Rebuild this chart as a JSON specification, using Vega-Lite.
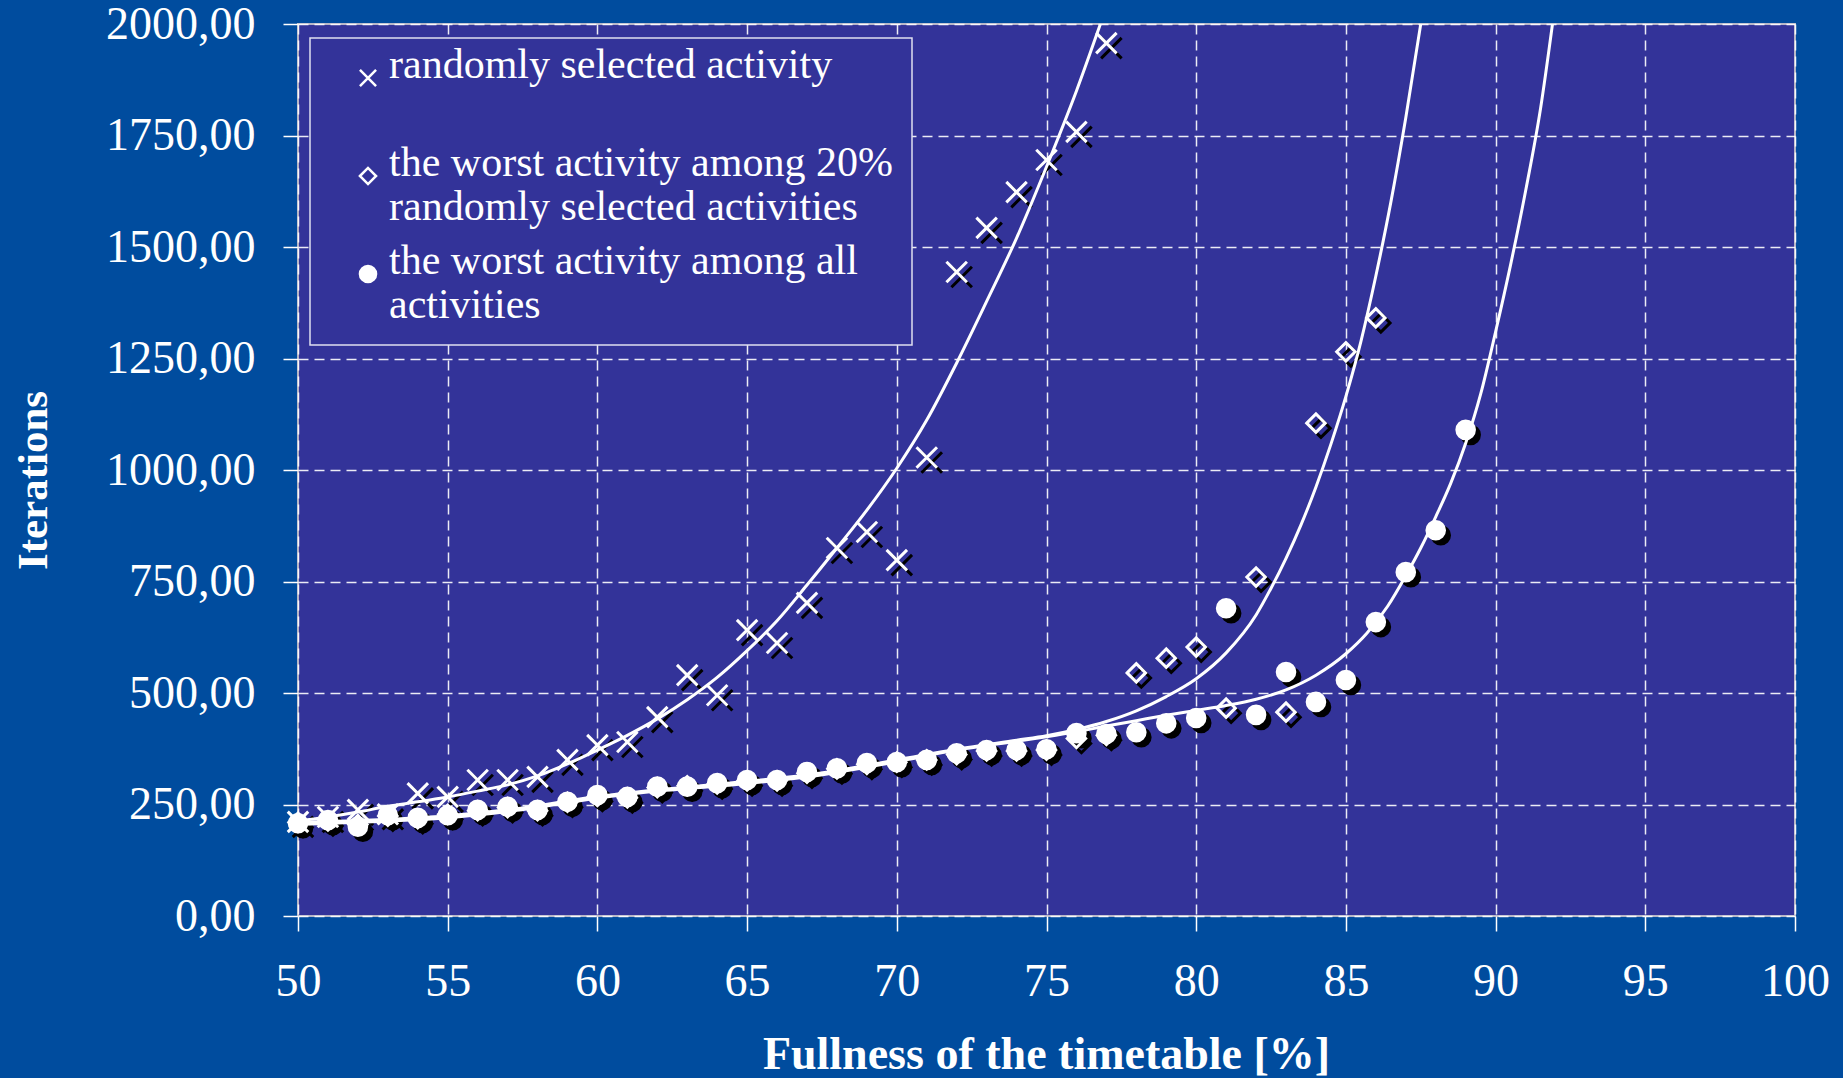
{
  "$schema": "https://vega.github.io/schema/vega-lite/v6.json",
  "autosize": {"type": "none"},
  "padding": {"left": 298, "top": 24, "right": 48, "bottom": 162},
  "width": 1497,
  "height": 892,
  "background": "#004C9E",
  "config": {
    "view": {"fill": "#333399", "stroke": "#B8B8C8", "strokeWidth": 2},
    "font": "Liberation Serif",
    "axis": {
      "domain": false,
      "grid": true,
      "gridColor": "#FFFFFF",
      "gridOpacity": 0.9,
      "gridDash": [10, 6],
      "gridWidth": 1.5,
      "tickColor": "#FFFFFF",
      "tickWidth": 1.5,
      "tickSize": 15,
      "labelColor": "#FFFFFF",
      "labelFont": "Liberation Serif",
      "labelFontSize": 46,
      "labelFlush": false,
      "labelOverlap": false,
      "titleColor": "#FFFFFF",
      "titleFont": "Liberation Serif",
      "titleFontWeight": "bold",
      "titleFontSize": 43
    },
    "legend": {
      "labelFont": "Liberation Serif",
      "labelFontSize": 42,
      "labelColor": "#FFFFFF",
      "labelLimit": 800,
      "labelBaseline": "alphabetic",
      "labelOffset": 0,
      "symbolOffset": 18,
      "symbolSize": 260,
      "symbolStrokeColor": "#FFFFFF",
      "symbolStrokeWidth": 2.5,
      "rowPadding": 12,
      "padding": 19,
      "fillColor": "#333399",
      "strokeColor": "#E0E0F0",
      "strokeWidth": 1.5
    }
  },
  "datasets": {
    "pts": [
      {"x": 50, "y": 211, "s": "A"}, {"x": 51, "y": 222, "s": "A"}, {"x": 52, "y": 238, "s": "A"}, {"x": 53, "y": 228, "s": "A"},
      {"x": 54, "y": 275, "s": "A"}, {"x": 55, "y": 267, "s": "A"}, {"x": 56, "y": 305, "s": "A"}, {"x": 57, "y": 305, "s": "A"},
      {"x": 58, "y": 312, "s": "A"}, {"x": 59, "y": 350, "s": "A"}, {"x": 60, "y": 383, "s": "A"}, {"x": 61, "y": 390, "s": "A"},
      {"x": 62, "y": 446, "s": "A"}, {"x": 63, "y": 540, "s": "A"}, {"x": 64, "y": 495, "s": "A"}, {"x": 65, "y": 641, "s": "A"},
      {"x": 66, "y": 612, "s": "A"}, {"x": 67, "y": 702, "s": "A"}, {"x": 68, "y": 825, "s": "A"}, {"x": 69, "y": 861, "s": "A"},
      {"x": 70, "y": 798, "s": "A"}, {"x": 71, "y": 1028, "s": "A"}, {"x": 72, "y": 1444, "s": "A"}, {"x": 73, "y": 1543, "s": "A"},
      {"x": 74, "y": 1623, "s": "A"}, {"x": 75, "y": 1695, "s": "A"}, {"x": 76, "y": 1758, "s": "A"}, {"x": 77, "y": 1957, "s": "A"},
      {"x": 50, "y": 210, "s": "B"}, {"x": 51, "y": 213, "s": "B"}, {"x": 52, "y": 205, "s": "B"}, {"x": 53, "y": 224, "s": "B"},
      {"x": 54, "y": 218, "s": "B"}, {"x": 55, "y": 228, "s": "B"}, {"x": 56, "y": 236, "s": "B"}, {"x": 57, "y": 243, "s": "B"},
      {"x": 58, "y": 236, "s": "B"}, {"x": 59, "y": 255, "s": "B"}, {"x": 60, "y": 268, "s": "B"}, {"x": 61, "y": 265, "s": "B"},
      {"x": 62, "y": 288, "s": "B"}, {"x": 63, "y": 292, "s": "B"}, {"x": 64, "y": 296, "s": "B"}, {"x": 65, "y": 303, "s": "B"},
      {"x": 66, "y": 303, "s": "B"}, {"x": 67, "y": 320, "s": "B"}, {"x": 68, "y": 330, "s": "B"}, {"x": 69, "y": 340, "s": "B"},
      {"x": 70, "y": 345, "s": "B"}, {"x": 71, "y": 350, "s": "B"}, {"x": 72, "y": 362, "s": "B"}, {"x": 73, "y": 370, "s": "B"},
      {"x": 74, "y": 370, "s": "B"}, {"x": 75, "y": 372, "s": "B"}, {"x": 76, "y": 398, "s": "B"}, {"x": 77, "y": 405, "s": "B"},
      {"x": 78, "y": 545, "s": "B"}, {"x": 79, "y": 578, "s": "B"}, {"x": 80, "y": 603, "s": "B"}, {"x": 81, "y": 466, "s": "B"},
      {"x": 82, "y": 760, "s": "B"}, {"x": 83, "y": 457, "s": "B"}, {"x": 84, "y": 1105, "s": "B"}, {"x": 85, "y": 1265, "s": "B"},
      {"x": 86, "y": 1341, "s": "B"},
      {"x": 50, "y": 208, "s": "C"}, {"x": 51, "y": 215, "s": "C"}, {"x": 52, "y": 200, "s": "C"}, {"x": 53, "y": 226, "s": "C"},
      {"x": 54, "y": 220, "s": "C"}, {"x": 55, "y": 226, "s": "C"}, {"x": 56, "y": 238, "s": "C"}, {"x": 57, "y": 245, "s": "C"},
      {"x": 58, "y": 238, "s": "C"}, {"x": 59, "y": 256, "s": "C"}, {"x": 60, "y": 271, "s": "C"}, {"x": 61, "y": 267, "s": "C"},
      {"x": 62, "y": 290, "s": "C"}, {"x": 63, "y": 290, "s": "C"}, {"x": 64, "y": 298, "s": "C"}, {"x": 65, "y": 305, "s": "C"},
      {"x": 66, "y": 305, "s": "C"}, {"x": 67, "y": 323, "s": "C"}, {"x": 68, "y": 331, "s": "C"}, {"x": 69, "y": 343, "s": "C"},
      {"x": 70, "y": 345, "s": "C"}, {"x": 71, "y": 350, "s": "C"}, {"x": 72, "y": 365, "s": "C"}, {"x": 73, "y": 372, "s": "C"},
      {"x": 74, "y": 372, "s": "C"}, {"x": 75, "y": 374, "s": "C"}, {"x": 76, "y": 410, "s": "C"}, {"x": 77, "y": 408, "s": "C"},
      {"x": 78, "y": 412, "s": "C"}, {"x": 79, "y": 432, "s": "C"}, {"x": 80, "y": 444, "s": "C"}, {"x": 81, "y": 690, "s": "C"},
      {"x": 82, "y": 451, "s": "C"}, {"x": 83, "y": 547, "s": "C"}, {"x": 84, "y": 480, "s": "C"}, {"x": 85, "y": 529, "s": "C"},
      {"x": 86, "y": 659, "s": "C"}, {"x": 87, "y": 771, "s": "C"}, {"x": 88, "y": 865, "s": "C"}, {"x": 89, "y": 1090, "s": "C"}
    ],
    "trend": [
      {"x": 50, "y": 213, "s": "A"}, {"x": 51, "y": 222, "s": "A"}, {"x": 52, "y": 233, "s": "A"}, {"x": 53, "y": 246, "s": "A"},
      {"x": 54, "y": 256, "s": "A"}, {"x": 55, "y": 267, "s": "A"}, {"x": 56, "y": 280, "s": "A"}, {"x": 57, "y": 294, "s": "A"},
      {"x": 58, "y": 314, "s": "A"}, {"x": 59, "y": 341, "s": "A"}, {"x": 60, "y": 372, "s": "A"}, {"x": 61, "y": 405, "s": "A"},
      {"x": 62, "y": 442, "s": "A"}, {"x": 63, "y": 485, "s": "A"}, {"x": 64, "y": 535, "s": "A"}, {"x": 65, "y": 595, "s": "A"},
      {"x": 66, "y": 662, "s": "A"}, {"x": 67, "y": 742, "s": "A"}, {"x": 68, "y": 825, "s": "A"}, {"x": 69, "y": 910, "s": "A"},
      {"x": 70, "y": 1004, "s": "A"}, {"x": 71, "y": 1112, "s": "A"}, {"x": 72, "y": 1240, "s": "A"}, {"x": 73, "y": 1378, "s": "A"},
      {"x": 74, "y": 1520, "s": "A"}, {"x": 75, "y": 1680, "s": "A"}, {"x": 76, "y": 1850, "s": "A"}, {"x": 76.8, "y": 2000, "s": "A"},
      {"x": 50, "y": 210, "s": "B"}, {"x": 52, "y": 214, "s": "B"}, {"x": 55, "y": 225, "s": "B"}, {"x": 57, "y": 238, "s": "B"},
      {"x": 60, "y": 268, "s": "B"}, {"x": 62, "y": 283, "s": "B"}, {"x": 65, "y": 302, "s": "B"}, {"x": 67, "y": 316, "s": "B"},
      {"x": 70, "y": 350, "s": "B"}, {"x": 72, "y": 374, "s": "B"}, {"x": 74, "y": 394, "s": "B"}, {"x": 75, "y": 404, "s": "B"},
      {"x": 76, "y": 418, "s": "B"}, {"x": 77, "y": 436, "s": "B"}, {"x": 78, "y": 460, "s": "B"}, {"x": 79, "y": 492, "s": "B"},
      {"x": 80, "y": 532, "s": "B"}, {"x": 81, "y": 590, "s": "B"}, {"x": 82, "y": 675, "s": "B"}, {"x": 82.5, "y": 735, "s": "B"},
      {"x": 83, "y": 802, "s": "B"}, {"x": 83.5, "y": 877, "s": "B"}, {"x": 84, "y": 962, "s": "B"}, {"x": 84.5, "y": 1058, "s": "B"},
      {"x": 85, "y": 1165, "s": "B"}, {"x": 85.5, "y": 1288, "s": "B"}, {"x": 86, "y": 1435, "s": "B"}, {"x": 86.5, "y": 1600, "s": "B"},
      {"x": 87, "y": 1790, "s": "B"}, {"x": 87.5, "y": 2000, "s": "B"},
      {"x": 50, "y": 205, "s": "C"}, {"x": 52, "y": 210, "s": "C"}, {"x": 55, "y": 220, "s": "C"}, {"x": 57, "y": 234, "s": "C"},
      {"x": 60, "y": 264, "s": "C"}, {"x": 62, "y": 280, "s": "C"}, {"x": 65, "y": 297, "s": "C"}, {"x": 67, "y": 312, "s": "C"},
      {"x": 70, "y": 346, "s": "C"}, {"x": 72, "y": 372, "s": "C"}, {"x": 74, "y": 392, "s": "C"}, {"x": 75, "y": 402, "s": "C"},
      {"x": 76, "y": 413, "s": "C"}, {"x": 77, "y": 426, "s": "C"}, {"x": 78, "y": 438, "s": "C"}, {"x": 79, "y": 450, "s": "C"},
      {"x": 80, "y": 461, "s": "C"}, {"x": 81, "y": 472, "s": "C"}, {"x": 82, "y": 486, "s": "C"}, {"x": 83, "y": 507, "s": "C"},
      {"x": 84, "y": 540, "s": "C"}, {"x": 85, "y": 588, "s": "C"}, {"x": 85.7, "y": 634, "s": "C"}, {"x": 86.4, "y": 695, "s": "C"},
      {"x": 87, "y": 763, "s": "C"}, {"x": 87.5, "y": 825, "s": "C"}, {"x": 88, "y": 895, "s": "C"}, {"x": 88.5, "y": 970, "s": "C"},
      {"x": 89, "y": 1060, "s": "C"}, {"x": 89.5, "y": 1170, "s": "C"}, {"x": 90, "y": 1310, "s": "C"}, {"x": 90.5, "y": 1460, "s": "C"},
      {"x": 91, "y": 1625, "s": "C"}, {"x": 91.5, "y": 1810, "s": "C"}, {"x": 91.9, "y": 2000, "s": "C"}
    ]
  },
  "encoding": {
    "x": {
      "field": "x", "type": "quantitative",
      "scale": {"domain": [50, 100], "nice": false, "zero": false},
      "axis": {
        "title": "Fullness of the timetable [%]",
        "values": [50, 55, 60, 65, 70, 75, 80, 85, 90, 95, 100],
        "labelBaseline": "alphabetic",
        "labelPadding": 64,
        "titleX": 748,
        "titleY": 152,
        "titleFontSize": 46,
        "titleBaseline": "alphabetic"
      }
    },
    "y": {
      "field": "y", "type": "quantitative",
      "scale": {"domain": [0, 2000], "nice": false},
      "axis": {
        "title": "Iterations",
        "values": [0, 250, 500, 750, 1000, 1250, 1500, 1750, 2000],
        "labelExpr": "replace(format(datum.value, '.2f'), '.', ',')",
        "labelPadding": 28,
        "titleX": -252,
        "titleY": 456,
        "titleBaseline": "alphabetic",
        "titleAngle": -90
      }
    }
  },
  "layer": [
    {
      "data": {"name": "pts"},
      "mark": {"type": "point", "xOffset": 5, "yOffset": 5, "strokeWidth": 3, "opacity": 1},
      "encoding": {
        "stroke": {"value": "#000000"},
        "fill": {"condition": {"test": "datum.s === 'C'", "value": "#000000"}, "value": "transparent"},
        "shape": {"condition": [{"test": "datum.s === 'A'", "value": "M-1,-1L1,1M-1,1L1,-1"}, {"test": "datum.s === 'B'", "value": "diamond"}], "value": "circle"},
        "size": {"condition": [{"test": "datum.s === 'A'", "value": 420}, {"test": "datum.s === 'B'", "value": 340}], "value": 310}
      }
    },
    {
      "data": {"name": "pts"},
      "mark": {"type": "point", "strokeWidth": 3, "opacity": 1},
      "encoding": {
        "stroke": {
          "field": "s", "type": "nominal",
          "scale": {"domain": ["A", "B", "C"], "range": ["#FFFFFF", "#FFFFFF", "#FFFFFF"]},
          "legend": {
            "title": null,
            "orient": "none",
            "legendX": 12,
            "legendY": 14,
            "labelExpr": "datum.label === 'A' ? ['randomly selected activity', ' '] : datum.label === 'B' ? ['the worst activity among 20%', 'randomly selected activities'] : ['the worst activity among all', 'activities']",
            "encode": {"labels": {"dy": {"value": 10}, "lineHeight": {"value": 44}}}
          }
        },
        "fill": {
          "field": "s", "type": "nominal",
          "scale": {"domain": ["A", "B", "C"], "range": ["transparent", "transparent", "#FFFFFF"]},
          "legend": {
            "title": null,
            "orient": "none",
            "legendX": 12,
            "legendY": 14,
            "labelExpr": "datum.label === 'A' ? ['randomly selected activity', ' '] : datum.label === 'B' ? ['the worst activity among 20%', 'randomly selected activities'] : ['the worst activity among all', 'activities']",
            "encode": {"labels": {"dy": {"value": 10}, "lineHeight": {"value": 44}}}
          }
        },
        "shape": {
          "field": "s", "type": "nominal",
          "scale": {"domain": ["A", "B", "C"], "range": ["M-1,-1L1,1M-1,1L1,-1", "diamond", "circle"]},
          "legend": {
            "title": null,
            "orient": "none",
            "legendX": 12,
            "legendY": 14,
            "labelExpr": "datum.label === 'A' ? ['randomly selected activity', ' '] : datum.label === 'B' ? ['the worst activity among 20%', 'randomly selected activities'] : ['the worst activity among all', 'activities']",
            "encode": {"labels": {"dy": {"value": 10}, "lineHeight": {"value": 44}}}
          }
        },
        "size": {"condition": [{"test": "datum.s === 'A'", "value": 420}, {"test": "datum.s === 'B'", "value": 340}], "value": 310}
      }
    },
    {
      "data": {"name": "trend"},
      "mark": {"type": "line", "stroke": "#FFFFFF", "strokeWidth": 3, "clip": true, "interpolate": "monotone"},
      "encoding": {
        "detail": {"field": "s", "type": "nominal"}
      }
    }
  ]
}
